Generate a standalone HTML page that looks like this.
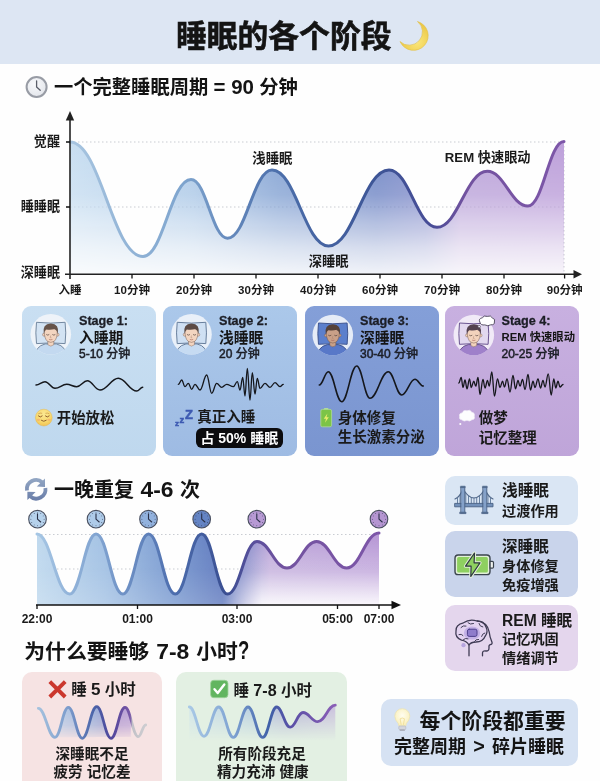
<!DOCTYPE html>
<html lang="zh-CN"><head><meta charset="utf-8"><title>睡眠的各个阶段</title>
<style>
html,body{margin:0;padding:0;}
body{width:600px;height:781px;overflow:hidden;background:#fefefe;font-family:"Liberation Sans","Noto Sans CJK SC",sans-serif;}
#pg{position:relative;width:600px;height:781px;overflow:hidden;background:#fefefe;}
.t{position:absolute;white-space:nowrap;font-weight:700;color:#1a1a1a;letter-spacing:0;}
.b{position:absolute;border-radius:10px;}
svg{position:absolute;left:0;top:0;}
svg text{font-family:"Liberation Sans","Noto Sans CJK SC",sans-serif;}
</style></head><body><div id="pg">
<div class="b" style="left:0;top:0;width:600px;height:64px;border-radius:0;background:#dde6f3;"></div>
<div class="b" style="left:22.0px;top:305.7px;width:134px;height:150.5px;border-radius:9px;background:linear-gradient(180deg,#c9dff2,#bfd8ee);"></div>
<div class="b" style="left:163.3px;top:305.7px;width:134px;height:150.5px;border-radius:9px;background:linear-gradient(180deg,#abc8ea,#9ebbe3);"></div>
<div class="b" style="left:304.5px;top:305.7px;width:134px;height:150.5px;border-radius:9px;background:linear-gradient(180deg,#849fd8,#7a95d0);"></div>
<div class="b" style="left:444.6px;top:305.7px;width:134px;height:150.5px;border-radius:9px;background:linear-gradient(180deg,#c8b0e0,#bfa5d9);"></div>
<div class="b" style="left:195.8px;top:427.6px;width:86.8px;height:20.6px;border-radius:6px;background:#0c0c0e;"></div>
<div class="b" style="left:445px;top:476px;width:133px;height:49px;background:#dae6f4;"></div>
<div class="b" style="left:445px;top:531px;width:133px;height:66px;background:#c9d4eb;"></div>
<div class="b" style="left:445px;top:605px;width:133px;height:66px;background:#e4d6ed;"></div>
<div class="b" style="left:22px;top:672px;width:140px;height:130px;background:#f6e3e3;"></div>
<div class="b" style="left:176px;top:672px;width:171px;height:130px;background:#e3f0e3;"></div>
<div class="b" style="left:381px;top:698.8px;width:197.3px;height:66.8px;background:#d6e2f3;"></div>
<svg width="600" height="781" viewBox="0 0 600 781">
<defs>
<linearGradient id="g1l" gradientUnits="userSpaceOnUse" x1="70" y1="0" x2="564" y2="0">
<stop offset="0" stop-color="#a8c5e0"/><stop offset="0.22" stop-color="#80a6cf"/><stop offset="0.42" stop-color="#4c6fab"/><stop offset="0.62" stop-color="#3d5596"/><stop offset="0.73" stop-color="#474c96"/><stop offset="0.8" stop-color="#72529f"/><stop offset="1" stop-color="#7d56a8"/></linearGradient>
<linearGradient id="g1f" gradientUnits="userSpaceOnUse" x1="70" y1="0" x2="564" y2="0">
<stop offset="0" stop-color="#c8def1"/><stop offset="0.25" stop-color="#adc9e7"/><stop offset="0.42" stop-color="#87a5d4"/><stop offset="0.62" stop-color="#7389c6"/><stop offset="0.72" stop-color="#8890cc"/><stop offset="0.79" stop-color="#bca6da"/><stop offset="1" stop-color="#bda0da"/></linearGradient>
<linearGradient id="g1v" gradientUnits="userSpaceOnUse" x1="0" y1="142" x2="0" y2="274">
<stop offset="0" stop-color="#fff"/><stop offset="0.4" stop-color="#d0d0d0"/><stop offset="0.8" stop-color="#4a4a4a"/><stop offset="1" stop-color="#181818"/></linearGradient>
<mask id="m1"><rect x="60" y="130" width="520" height="150" fill="url(#g1v)"/></mask>
<linearGradient id="g2l" gradientUnits="userSpaceOnUse" x1="37" y1="0" x2="379" y2="0">
<stop offset="0" stop-color="#a6c6e4"/><stop offset="0.2" stop-color="#7c9fce"/><stop offset="0.4" stop-color="#4d6eae"/><stop offset="0.55" stop-color="#3a4f92"/><stop offset="0.64" stop-color="#5b4f9c"/><stop offset="0.72" stop-color="#72529f"/><stop offset="1" stop-color="#7d56a8"/></linearGradient>
<linearGradient id="g2f" gradientUnits="userSpaceOnUse" x1="37" y1="0" x2="379" y2="0">
<stop offset="0" stop-color="#c0d9ee"/><stop offset="0.2" stop-color="#a4c2e4"/><stop offset="0.4" stop-color="#7a9ad0"/><stop offset="0.55" stop-color="#6079be"/><stop offset="0.62" stop-color="#8f90cc"/><stop offset="0.68" stop-color="#bba4d8"/><stop offset="1" stop-color="#b798d6"/></linearGradient>
<linearGradient id="g2v" gradientUnits="userSpaceOnUse" x1="0" y1="534" x2="0" y2="605">
<stop offset="0" stop-color="#fff"/><stop offset="0.5" stop-color="#f2f2f2"/><stop offset="1" stop-color="#cfcfcf"/></linearGradient>
<linearGradient id="g2h" gradientUnits="userSpaceOnUse" x1="37" y1="0" x2="379" y2="0">
<stop offset="0" stop-color="#fff"/><stop offset="0.55" stop-color="#fff"/><stop offset="0.68" stop-color="#555"/><stop offset="1" stop-color="#555"/></linearGradient>
<linearGradient id="g2w" gradientUnits="userSpaceOnUse" x1="0" y1="540" x2="0" y2="605">
<stop offset="0" stop-color="#fff" stop-opacity="0.03"/><stop offset="0.5" stop-color="#fff" stop-opacity="0.28"/><stop offset="1" stop-color="#fff" stop-opacity="0.9"/></linearGradient>
<linearGradient id="g2hm" gradientUnits="userSpaceOnUse" x1="222" y1="0" x2="262" y2="0">
<stop offset="0" stop-color="#000"/><stop offset="1" stop-color="#fff"/></linearGradient>
<mask id="m2w"><rect x="30" y="525" width="360" height="85" fill="url(#g2hm)"/></mask>
<mask id="m2"><rect x="30" y="525" width="360" height="85" fill="url(#g2v)"/></mask>
<linearGradient id="g3l" gradientUnits="userSpaceOnUse" x1="38" y1="0" x2="146" y2="0">
<stop offset="0" stop-color="#a5c2de"/><stop offset="0.28" stop-color="#7c9ccc"/><stop offset="0.52" stop-color="#4a63a8"/><stop offset="0.68" stop-color="#51469c"/><stop offset="0.8" stop-color="#6c50a2"/><stop offset="0.855" stop-color="#7a5aa8"/><stop offset="0.875" stop-color="#c2c2c8"/><stop offset="1" stop-color="#cdcdd1"/></linearGradient>
<linearGradient id="g3f" gradientUnits="userSpaceOnUse" x1="0" y1="706" x2="0" y2="742">
<stop offset="0" stop-color="#8fb0e0" stop-opacity="0.75"/><stop offset="1" stop-color="#8fb0e0" stop-opacity="0"/></linearGradient>
<linearGradient id="g3h" gradientUnits="userSpaceOnUse" x1="38" y1="0" x2="146" y2="0">
<stop offset="0" stop-color="#c3daee"/><stop offset="0.5" stop-color="#95aedb"/><stop offset="0.66" stop-color="#8f98d0"/><stop offset="0.74" stop-color="#ae97d2"/><stop offset="0.855" stop-color="#b59dd6"/><stop offset="0.87" stop-color="#f0e2e6" stop-opacity="0"/><stop offset="1" stop-color="#f0e2e6" stop-opacity="0"/></linearGradient>
<linearGradient id="g3v" gradientUnits="userSpaceOnUse" x1="0" y1="706" x2="0" y2="738">
<stop offset="0" stop-color="#fff"/><stop offset="0.6" stop-color="#aaa"/><stop offset="1" stop-color="#222"/></linearGradient>
<mask id="m3"><rect x="30" y="700" width="130" height="45" fill="url(#g3v)"/></mask>
<linearGradient id="g4l" gradientUnits="userSpaceOnUse" x1="189" y1="0" x2="335" y2="0">
<stop offset="0" stop-color="#a9c9e6"/><stop offset="0.3" stop-color="#7fa3d2"/><stop offset="0.55" stop-color="#4060a8"/><stop offset="0.7" stop-color="#5a4fa6"/><stop offset="1" stop-color="#8a5fb6"/></linearGradient>
<linearGradient id="g4h" gradientUnits="userSpaceOnUse" x1="189" y1="0" x2="335" y2="0">
<stop offset="0" stop-color="#c6dff0"/><stop offset="0.45" stop-color="#9ab6e0"/><stop offset="0.66" stop-color="#9a92d2"/><stop offset="1" stop-color="#b9a0da"/></linearGradient>
<linearGradient id="g4v" gradientUnits="userSpaceOnUse" x1="0" y1="705" x2="0" y2="741">
<stop offset="0" stop-color="#fff"/><stop offset="1" stop-color="#000"/></linearGradient>
<mask id="m4"><rect x="180" y="700" width="165" height="45" fill="url(#g4v)"/></mask>
<radialGradient id="gm" cx="0.6" cy="0.7" r="0.7"><stop offset="0" stop-color="#fbe77a"/><stop offset="1" stop-color="#e9c340"/></radialGradient>
<radialGradient id="gck" cx="0.4" cy="0.35" r="0.8"><stop offset="0" stop-color="#f8f9fb"/><stop offset="1" stop-color="#dfe2e8"/></radialGradient>
<radialGradient id="gbl" cx="0.5" cy="0.4" r="0.6"><stop offset="0" stop-color="#fffdf0"/><stop offset="1" stop-color="#faefb8"/></radialGradient>
<linearGradient id="grf" gradientUnits="userSpaceOnUse" x1="0" y1="-11" x2="0" y2="11"><stop offset="0" stop-color="#93a7c4"/><stop offset="1" stop-color="#697da8"/></linearGradient>
<radialGradient id="gem" cx="0.5" cy="0.3" r="0.8"><stop offset="0" stop-color="#fbe892"/><stop offset="0.6" stop-color="#f7d76c"/><stop offset="1" stop-color="#efb74a"/></radialGradient>
</defs>
<path d="M417.5,21.5 A14.7,14.7 0 1 1 400,41.5 A13.3,13.3 0 1 0 417.5,21.5 Z" fill="url(#gm)" stroke="#e3c040" stroke-width="0.6"/>
<g transform="translate(36.6,87)"><circle r="10" fill="url(#gck)" stroke="#989ca5" stroke-width="2"/><path d="M0,-6.2 L0,0 L3.6,3.2" fill="none" stroke="#5a5e69" stroke-width="1.3" stroke-linecap="round" stroke-linejoin="round"/></g>
<g>
<path d="M70,142 H564 M70,207 H564" stroke="#c9ccd2" stroke-width="1" stroke-dasharray="1.5 2.5" fill="none"/>
<path d="M564,142 V274" stroke="#c9ccd2" stroke-width="1" stroke-dasharray="1.5 2.5" fill="none"/>
<path d="M70.0,142.0 C100.7,142.0 112.3,256.5 143.0,256.5 C163.2,256.5 170.8,179.5 191.0,179.5 C206.3,179.5 212.2,238.3 227.5,238.3 C246.2,238.3 253.3,170.0 272.0,170.0 C295.7,170.0 304.8,246.0 328.5,246.0 C353.9,246.0 363.6,170.0 389.0,170.0 C409.2,170.0 416.8,227.3 437.0,227.3 C458.1,227.3 466.2,171.3 487.3,171.3 C504.4,171.3 510.9,206.0 528.0,206.0 C543.1,206.0 548.9,141.5 564.0,141.5 L564,274 L70,274 Z" fill="url(#g1f)" mask="url(#m1)"/>
<path d="M70.0,142.0 C100.7,142.0 112.3,256.5 143.0,256.5 C163.2,256.5 170.8,179.5 191.0,179.5 C206.3,179.5 212.2,238.3 227.5,238.3 C246.2,238.3 253.3,170.0 272.0,170.0 C295.7,170.0 304.8,246.0 328.5,246.0 C353.9,246.0 363.6,170.0 389.0,170.0 C409.2,170.0 416.8,227.3 437.0,227.3 C458.1,227.3 466.2,171.3 487.3,171.3 C504.4,171.3 510.9,206.0 528.0,206.0 C543.1,206.0 548.9,141.5 564.0,141.5" fill="none" stroke="url(#g1l)" stroke-width="3" stroke-linecap="round"/>
<path d="M70,279 V118" stroke="#222" stroke-width="1.6" fill="none"/><path d="M70,111 L74.2,120.5 L65.8,120.5 Z" fill="#222"/>
<path d="M65,274.2 H575" stroke="#222" stroke-width="1.6" fill="none"/><path d="M582,274.2 L573.5,278.5 L573.5,269.9 Z" fill="#222"/>
<path d="M132.0,274 v4.5 M194.0,274 v4.5 M256.0,274 v4.5 M318.0,274 v4.5 M380.0,274 v4.5 M442.0,274 v4.5 M504.0,274 v4.5 M564.6,274 v4.5 M66,142 h4 M66,207 h4" stroke="#111" stroke-width="1.3" fill="none"/>
</g>
<g transform="translate(50.8,334.3)"><circle r="20.3" fill="#eef3f9"/><clipPath id="av50"><circle r="20.3"/></clipPath><g clip-path="url(#av50)"><path d="M-14.3,-12 Q0,-10.4 14.3,-12 Q15.6,-1.5 14.3,9.3 Q0,7.9 -14.3,9.3 Q-15.6,-1.5 -14.3,-12 Z" fill="#d3e3f3" stroke="#7388a0" stroke-width="1"/><path d="M-16,24 Q-16,12 -5.5,9.6 L5.5,9.6 Q16,12 16,24 Z" fill="#c3d9f0" stroke="#7388a0" stroke-width="1"/><g transform="translate(0,0.8) scale(0.92)"><path d="M-3.2,5 L-3.2,10.5 Q0,13.5 3.2,10.5 L3.2,5 Z" fill="#f3d5c0" stroke="#6b5246" stroke-width="0.4"/><circle cx="-7.3" cy="-0.5" r="1.7" fill="#f3d5c0" stroke="#6b5246" stroke-width="0.4"/><circle cx="7.3" cy="-0.5" r="1.7" fill="#f3d5c0" stroke="#6b5246" stroke-width="0.4"/><path d="M-7,-5 Q-7.4,3.5 -3.6,6.8 Q0,9 3.6,6.8 Q7.4,3.5 7,-5 Q0,-10 -7,-5 Z" fill="#f3d5c0" stroke="#6b5246" stroke-width="0.5"/><path d="M-7.6,-1.5 Q-9.6,-12.4 0,-12.6 Q9.6,-12.4 7.6,-1.5 Q6.8,-5.6 4.2,-6.6 Q-1,-5 -5,-6.4 Q-6.8,-4.6 -7.6,-1.5 Z" fill="#665349"/><path d="M-4.6,-0.4 Q-3.3,0.7 -2,-0.4 M2,-0.4 Q3.3,0.7 4.6,-0.4" fill="none" stroke="#4a3a34" stroke-width="0.7" stroke-linecap="round"/><path d="M-0.1,0.8 L-0.6,2.8 L0.4,2.9" fill="none" stroke="#a87f6a" stroke-width="0.5" stroke-linecap="round"/><path d="M-1.4,4.9 Q0,5.5 1.4,4.9" fill="none" stroke="#a8675a" stroke-width="0.7" stroke-linecap="round"/></g></g></g><g transform="translate(191.5,334.3)"><circle r="20.3" fill="#e9f0f9"/><clipPath id="av191"><circle r="20.3"/></clipPath><g clip-path="url(#av191)"><path d="M-14.3,-12 Q0,-10.4 14.3,-12 Q15.6,-1.5 14.3,9.3 Q0,7.9 -14.3,9.3 Q-15.6,-1.5 -14.3,-12 Z" fill="#cfe0f3" stroke="#677e9c" stroke-width="1"/><path d="M-16,24 Q-16,12 -5.5,9.6 L5.5,9.6 Q16,12 16,24 Z" fill="#c6dbf2" stroke="#677e9c" stroke-width="1"/><g transform="translate(0,0.8) scale(0.92)"><path d="M-3.2,5 L-3.2,10.5 Q0,13.5 3.2,10.5 L3.2,5 Z" fill="#f3d5c0" stroke="#6b5246" stroke-width="0.4"/><circle cx="-7.3" cy="-0.5" r="1.7" fill="#f3d5c0" stroke="#6b5246" stroke-width="0.4"/><circle cx="7.3" cy="-0.5" r="1.7" fill="#f3d5c0" stroke="#6b5246" stroke-width="0.4"/><path d="M-7,-5 Q-7.4,3.5 -3.6,6.8 Q0,9 3.6,6.8 Q7.4,3.5 7,-5 Q0,-10 -7,-5 Z" fill="#f3d5c0" stroke="#6b5246" stroke-width="0.5"/><path d="M-7.6,-1.5 Q-9.6,-12.4 0,-12.6 Q9.6,-12.4 7.6,-1.5 Q6.8,-5.6 4.2,-6.6 Q-1,-5 -5,-6.4 Q-6.8,-4.6 -7.6,-1.5 Z" fill="#5c4b45"/><path d="M-4.6,-0.4 Q-3.3,0.7 -2,-0.4 M2,-0.4 Q3.3,0.7 4.6,-0.4" fill="none" stroke="#4a3a34" stroke-width="0.7" stroke-linecap="round"/><path d="M-0.1,0.8 L-0.6,2.8 L0.4,2.9" fill="none" stroke="#a87f6a" stroke-width="0.5" stroke-linecap="round"/><path d="M-1.4,4.9 Q0,5.5 1.4,4.9" fill="none" stroke="#a8675a" stroke-width="0.7" stroke-linecap="round"/></g></g></g><g transform="translate(332.8,335.0)"><circle r="20.3" fill="#e6ecf7"/><clipPath id="av332"><circle r="20.3"/></clipPath><g clip-path="url(#av332)"><path d="M-14.3,-12 Q0,-10.4 14.3,-12 Q15.6,-1.5 14.3,9.3 Q0,7.9 -14.3,9.3 Q-15.6,-1.5 -14.3,-12 Z" fill="#5b7fcc" stroke="#3f5590" stroke-width="1"/><path d="M-16,24 Q-16,12 -5.5,9.6 L5.5,9.6 Q16,12 16,24 Z" fill="#5878c8" stroke="#3f5590" stroke-width="1"/><g transform="translate(0,0.8) scale(0.92)"><path d="M-3.2,5 L-3.2,10.5 Q0,13.5 3.2,10.5 L3.2,5 Z" fill="#c9a088" stroke="#6b5246" stroke-width="0.4"/><circle cx="-7.3" cy="-0.5" r="1.7" fill="#c9a088" stroke="#6b5246" stroke-width="0.4"/><circle cx="7.3" cy="-0.5" r="1.7" fill="#c9a088" stroke="#6b5246" stroke-width="0.4"/><path d="M-7,-5 Q-7.4,3.5 -3.6,6.8 Q0,9 3.6,6.8 Q7.4,3.5 7,-5 Q0,-10 -7,-5 Z" fill="#c9a088" stroke="#6b5246" stroke-width="0.5"/><path d="M-7.6,-1.5 Q-9.6,-12.4 0,-12.6 Q9.6,-12.4 7.6,-1.5 Q6.8,-5.6 4.2,-6.6 Q-1,-5 -5,-6.4 Q-6.8,-4.6 -7.6,-1.5 Z" fill="#55423a"/><path d="M-4.6,-0.4 Q-3.3,0.7 -2,-0.4 M2,-0.4 Q3.3,0.7 4.6,-0.4" fill="none" stroke="#4a3a34" stroke-width="0.7" stroke-linecap="round"/><path d="M-0.1,0.8 L-0.6,2.8 L0.4,2.9" fill="none" stroke="#a87f6a" stroke-width="0.5" stroke-linecap="round"/><path d="M-1.4,4.9 Q0,5.5 1.4,4.9" fill="none" stroke="#a8675a" stroke-width="0.7" stroke-linecap="round"/></g></g></g><g transform="translate(473.8,335.0)"><circle r="20.3" fill="#f1eaf7"/><clipPath id="av473"><circle r="20.3"/></clipPath><g clip-path="url(#av473)"><path d="M-14.3,-12 Q0,-10.4 14.3,-12 Q15.6,-1.5 14.3,9.3 Q0,7.9 -14.3,9.3 Q-15.6,-1.5 -14.3,-12 Z" fill="#e2d8ef" stroke="#6a5490" stroke-width="1"/><path d="M-16,24 Q-16,12 -5.5,9.6 L5.5,9.6 Q16,12 16,24 Z" fill="#9f80ca" stroke="#6a5490" stroke-width="1"/><g transform="translate(0,0.8) scale(0.92)"><path d="M-3.2,5 L-3.2,10.5 Q0,13.5 3.2,10.5 L3.2,5 Z" fill="#f3d3bc" stroke="#6b5246" stroke-width="0.4"/><circle cx="-7.3" cy="-0.5" r="1.7" fill="#f3d3bc" stroke="#6b5246" stroke-width="0.4"/><circle cx="7.3" cy="-0.5" r="1.7" fill="#f3d3bc" stroke="#6b5246" stroke-width="0.4"/><path d="M-7,-5 Q-7.4,3.5 -3.6,6.8 Q0,9 3.6,6.8 Q7.4,3.5 7,-5 Q0,-10 -7,-5 Z" fill="#f3d3bc" stroke="#6b5246" stroke-width="0.5"/><path d="M-7.6,-1.5 Q-9.6,-12.4 0,-12.6 Q9.6,-12.4 7.6,-1.5 Q6.8,-5.6 4.2,-6.6 Q-1,-5 -5,-6.4 Q-6.8,-4.6 -7.6,-1.5 Z" fill="#54424f"/><path d="M-4.6,-0.4 Q-3.3,0.7 -2,-0.4 M2,-0.4 Q3.3,0.7 4.6,-0.4" fill="none" stroke="#4a3a34" stroke-width="0.7" stroke-linecap="round"/><path d="M-0.1,0.8 L-0.6,2.8 L0.4,2.9" fill="none" stroke="#a87f6a" stroke-width="0.5" stroke-linecap="round"/><path d="M-1.4,4.9 Q0,5.5 1.4,4.9" fill="none" stroke="#a8675a" stroke-width="0.7" stroke-linecap="round"/></g></g><g transform="translate(13,-14)"><path d="M-7,1 Q-8.5,-2.5 -4.5,-3.2 Q-3,-6 0.5,-4.6 Q4,-6.2 5.6,-3 Q9,-2 7.6,1 Q8,4 4,3.8 Q1,5.6 -2,3.9 Q-6,4.6 -7,1 Z" fill="#fff" stroke="#4a4258" stroke-width="0.9"/><circle cx="-7.6" cy="5.6" r="1.2" fill="#fff" stroke="#4a4258" stroke-width="0.7"/></g></g><path d="M36.0,385.0 C39.6,385.0 41.4,381.7 45.0,381.7 C49.0,381.7 51.0,388.3 55.0,388.3 C59.7,388.3 62.0,384.3 66.7,384.3 C70.7,384.3 72.7,386.7 76.7,386.7 C80.9,386.7 83.1,380.7 87.3,380.7 C92.4,380.7 94.9,390.0 100.0,390.0 C107.3,390.0 111.0,378.3 118.3,378.3 C125.7,378.3 129.3,391.0 136.7,391.0 C139.1,391.0 140.3,387.3 142.7,387.3" fill="none" stroke="#15171c" stroke-width="1.5" stroke-linecap="round" stroke-linejoin="round"/>
<path d="M178.3,384.3 C179.7,384.3 180.3,380.0 181.7,380.0 C183.0,380.0 183.7,386.7 185.0,386.7 C186.3,386.7 187.0,383.3 188.3,383.3 C189.7,383.3 190.3,389.3 191.7,389.3 C193.0,389.3 193.7,384.3 195.0,384.3 C197.0,384.3 198.0,390.0 200.0,390.0 C202.7,390.0 204.0,375.0 206.7,375.0 C208.7,375.0 209.7,393.3 211.7,393.3 C213.7,393.3 214.7,383.3 216.7,383.3 C218.7,383.3 219.7,387.3 221.7,387.3 C223.7,387.3 224.7,384.3 226.7,384.3 C229.3,384.3 230.7,386.7 233.3,386.7 C234.9,386.7 235.7,381.7 237.3,381.7 C238.4,381.7 238.9,390.0 240.0,390.0 C241.1,390.0 241.6,377.3 242.7,377.3 C243.6,377.3 244.1,396.0 245.0,396.0 C245.9,396.0 246.4,368.3 247.3,368.3 C248.4,368.3 248.9,400.0 250.0,400.0 C250.9,400.0 251.4,372.7 252.3,372.7 C253.4,372.7 253.9,394.0 255.0,394.0 C255.9,394.0 256.4,378.3 257.3,378.3 C258.4,378.3 258.9,388.3 260.0,388.3 C262.0,388.3 263.0,383.3 265.0,383.3 C267.0,383.3 268.0,387.3 270.0,387.3 C272.0,387.3 273.0,382.7 275.0,382.7 C277.0,382.7 278.0,386.7 280.0,386.7 C281.3,386.7 282.0,384.3 283.3,384.3" fill="none" stroke="#15171c" stroke-width="1.3" stroke-linecap="round" stroke-linejoin="round"/>
<path d="M319.3,385.0 C322.9,385.0 324.7,371.7 328.3,371.7 C333.7,371.7 336.3,401.7 341.7,401.7 C347.7,401.7 350.7,366.0 356.7,366.0 C362.0,366.0 364.7,398.3 370.0,398.3 C377.3,398.3 381.0,371.7 388.3,371.7 C393.7,371.7 396.3,395.0 401.7,395.0 C407.0,395.0 409.7,379.3 415.0,379.3 C418.3,379.3 420.0,386.0 423.3,386.0" fill="none" stroke="#15171c" stroke-width="1.6" stroke-linecap="round" stroke-linejoin="round"/>
<path d="M458.8,383.0 C459.8,383.0 460.2,377.5 461.2,377.5 C461.9,377.5 462.3,387.5 463.0,387.5 C463.8,387.5 464.2,380.0 465.0,380.0 C465.8,380.0 466.2,388.8 467.0,388.8 C468.0,388.8 468.5,378.8 469.5,378.8 C470.2,378.8 470.6,387.5 471.2,387.5 C472.2,387.5 472.8,381.2 473.8,381.2 C474.6,381.2 474.9,386.2 475.8,386.2 C476.6,386.2 477.1,377.5 478.0,377.5 C478.8,377.5 479.2,394.5 480.0,394.5 C481.2,394.5 481.8,379.5 483.0,379.5 C483.8,379.5 484.2,388.0 485.0,388.0 C486.0,388.0 486.5,380.5 487.5,380.5 C488.2,380.5 488.6,386.2 489.2,386.2 C490.2,386.2 490.8,372.0 491.8,372.0 C492.9,372.0 493.4,396.2 494.5,396.2 C495.7,396.2 496.3,378.8 497.5,378.8 C498.5,378.8 499.0,387.5 500.0,387.5 C501.0,387.5 501.5,381.2 502.5,381.2 C503.3,381.2 503.7,387.0 504.5,387.0 C505.5,387.0 506.0,378.8 507.0,378.8 C508.2,378.8 508.8,392.0 510.0,392.0 C511.2,392.0 511.8,375.5 513.0,375.5 C514.0,375.5 514.5,388.8 515.5,388.8 C516.5,388.8 517.0,380.5 518.0,380.5 C518.8,380.5 519.2,386.2 520.0,386.2 C521.0,386.2 521.5,379.5 522.5,379.5 C523.5,379.5 524.0,389.5 525.0,389.5 C526.2,389.5 526.8,374.5 528.0,374.5 C529.0,374.5 529.5,390.0 530.5,390.0 C531.5,390.0 532.0,381.2 533.0,381.2 C533.8,381.2 534.2,387.5 535.0,387.5 C536.2,387.5 536.8,378.8 538.0,378.8 C539.0,378.8 539.5,388.0 540.5,388.0 C541.5,388.0 542.0,380.5 543.0,380.5 C543.8,380.5 544.2,387.0 545.0,387.0 C546.3,387.0 547.0,373.8 548.2,373.8 C549.5,373.8 550.0,395.0 551.2,395.0 C552.2,395.0 552.8,378.8 553.8,378.8 C554.5,378.8 555.0,388.0 555.8,388.0 C556.6,388.0 557.1,381.2 558.0,381.2 C558.8,381.2 559.2,387.0 560.0,387.0 C561.2,387.0 561.8,384.5 563.0,384.5" fill="none" stroke="#15171c" stroke-width="1.3" stroke-linecap="round" stroke-linejoin="round"/>
<g transform="translate(43.8,417.6)"><circle r="8.4" fill="url(#gem)" stroke="#e6b040" stroke-width="0.4"/><path d="M-5.4,-1.6 Q-3.5,0.6 -1.6,-1.6 M1.6,-1.6 Q3.5,0.6 5.4,-1.6" fill="none" stroke="#8a5a2a" stroke-width="0.95" stroke-linecap="round"/><path d="M-5.2,-4 Q-3.6,-5 -2,-4.4 M2,-4.4 Q3.6,-5 5.2,-4" fill="none" stroke="#c08a3a" stroke-width="0.6" stroke-linecap="round"/><path d="M-2.4,2.8 Q0,4.8 2.4,2.8" fill="none" stroke="#8a5a2a" stroke-width="0.95" stroke-linecap="round"/><ellipse cx="-5.2" cy="2.2" rx="1.9" ry="1.1" fill="#f2a070" opacity="0.55"/><ellipse cx="5.2" cy="2.2" rx="1.9" ry="1.1" fill="#f2a070" opacity="0.55"/></g>
<g fill="#3d5ab2" font-weight="700" stroke="#3d5ab2" stroke-width="0.5"><text x="175" y="426" font-size="8">z</text><text x="179.6" y="422.5" font-size="9.5">z</text><text x="185" y="418.6" font-size="13">Z</text></g>
<g transform="translate(326.2,418)"><rect x="-2.2" y="-9.9" width="4.4" height="1.8" rx="0.6" fill="#b4dca0"/><rect x="-5.4" y="-8.6" width="10.8" height="17.4" rx="1.6" fill="#7cc447" stroke="#a9d78f" stroke-width="0.9"/><path d="M1.2,-4.6 L-2.4,0.8 L-0.2,0.8 L-1.2,4.8 L2.6,-0.8 L0.3,-0.8 Z" fill="#eaec6a"/></g>
<g transform="translate(467,416) scale(0.86)"><path d="M-6,4.5 Q-9.5,4 -8.6,0.6 Q-9.6,-3.2 -5.6,-3.6 Q-4,-7.6 0,-6 Q3.6,-8 5.6,-4.4 Q9.6,-3.6 8.4,0.2 Q9.8,3.8 5.6,4.4 Q3,7 0,5 Q-3.4,7 -6,4.5 Z" fill="#fdfdfe" stroke="#efeaf6" stroke-width="0.8"/><circle cx="-7.8" cy="9.2" r="1.2" fill="#fdfdfe"/></g>
<g transform="translate(36.2,489.3)" fill="none" stroke="url(#grf)" stroke-width="3.8" stroke-linecap="butt"><path d="M-9.2,1.2 A9.2,9.2 0 0 1 6.2,-6.8"/><path d="M9.2,-1.2 A9.2,9.2 0 0 1 -6.2,6.8"/><path d="M8.8,-10.8 L8.8,-2.4 L0.6,-2.8 Z" fill="url(#grf)" stroke="none"/><path d="M-8.8,10.8 L-8.8,2.4 L-0.6,2.8 Z" fill="url(#grf)" stroke="none"/></g>
<path d="M37,534.5 H379 M37,569 H379" stroke="#c9ccd2" stroke-width="1" stroke-dasharray="1.5 2.5" fill="none"/>
<path d="M37.0,534.0 C50.7,534.0 56.0,594.0 69.7,594.0 C80.7,594.0 85.0,534.0 96.0,534.0 C107.3,534.0 111.5,594.0 122.8,594.0 C133.6,594.0 137.7,534.0 148.5,534.0 C159.8,534.0 164.0,594.0 175.3,594.0 C186.4,594.0 190.6,534.0 201.7,534.0 C212.5,534.0 216.7,594.0 227.5,594.0 C239.9,594.0 244.6,541.5 257.0,541.5 C269.6,541.5 274.4,568.0 287.0,568.0 C299.4,568.0 304.2,541.5 316.6,541.5 C329.2,541.5 334.1,568.0 346.7,568.0 C360.3,568.0 365.4,533.0 379.0,533.0 L379,605 L37,605 Z" fill="url(#g2f)" mask="url(#m2)"/>
<path d="M37.0,534.0 C50.7,534.0 56.0,594.0 69.7,594.0 C80.7,594.0 85.0,534.0 96.0,534.0 C107.3,534.0 111.5,594.0 122.8,594.0 C133.6,594.0 137.7,534.0 148.5,534.0 C159.8,534.0 164.0,594.0 175.3,594.0 C186.4,594.0 190.6,534.0 201.7,534.0 C212.5,534.0 216.7,594.0 227.5,594.0 C239.9,594.0 244.6,541.5 257.0,541.5 C269.6,541.5 274.4,568.0 287.0,568.0 C299.4,568.0 304.2,541.5 316.6,541.5 C329.2,541.5 334.1,568.0 346.7,568.0 C360.3,568.0 365.4,533.0 379.0,533.0 L379,605 L37,605 Z" fill="url(#g2w)" mask="url(#m2w)"/>
<path d="M37.0,534.0 C50.7,534.0 56.0,594.0 69.7,594.0 C80.7,594.0 85.0,534.0 96.0,534.0 C107.3,534.0 111.5,594.0 122.8,594.0 C133.6,594.0 137.7,534.0 148.5,534.0 C159.8,534.0 164.0,594.0 175.3,594.0 C186.4,594.0 190.6,534.0 201.7,534.0 C212.5,534.0 216.7,594.0 227.5,594.0 C239.9,594.0 244.6,541.5 257.0,541.5 C269.6,541.5 274.4,568.0 287.0,568.0 C299.4,568.0 304.2,541.5 316.6,541.5 C329.2,541.5 334.1,568.0 346.7,568.0 C360.3,568.0 365.4,533.0 379.0,533.0" fill="none" stroke="url(#g2l)" stroke-width="3" stroke-linecap="round"/>
<path d="M36,605 H394" stroke="#111" stroke-width="1.6" fill="none"/><path d="M401,605 L391.5,609.2 L391.5,600.8 Z" fill="#111"/>
<path d="M37,605 v4 M137.5,605 v4 M237,605 v4 M337.5,605 v4 M379,605 v4" stroke="#111" stroke-width="1.3" fill="none"/>
<g transform="translate(37.5,519.2)"><circle r="8.8" fill="#b6d2ec" stroke="#4a5060" stroke-width="1.1"/><circle cx="0.00" cy="-6.60" r="0.45" fill="#2a3148"/><circle cx="3.30" cy="-5.72" r="0.45" fill="#2a3148"/><circle cx="5.72" cy="-3.30" r="0.45" fill="#2a3148"/><circle cx="6.60" cy="-0.00" r="0.45" fill="#2a3148"/><circle cx="5.72" cy="3.30" r="0.45" fill="#2a3148"/><circle cx="3.30" cy="5.72" r="0.45" fill="#2a3148"/><circle cx="0.00" cy="6.60" r="0.45" fill="#2a3148"/><circle cx="-3.30" cy="5.72" r="0.45" fill="#2a3148"/><circle cx="-5.72" cy="3.30" r="0.45" fill="#2a3148"/><circle cx="-6.60" cy="0.00" r="0.45" fill="#2a3148"/><circle cx="-5.72" cy="-3.30" r="0.45" fill="#2a3148"/><circle cx="-3.30" cy="-5.72" r="0.45" fill="#2a3148"/><path d="M0,-5.4 L0,0 L3.2,2.8" fill="none" stroke="#2a3148" stroke-width="1.1" stroke-linecap="round" stroke-linejoin="round"/></g><g transform="translate(96.0,519.2)"><circle r="8.8" fill="#aecbe9" stroke="#4a5060" stroke-width="1.1"/><circle cx="0.00" cy="-6.60" r="0.45" fill="#2a3148"/><circle cx="3.30" cy="-5.72" r="0.45" fill="#2a3148"/><circle cx="5.72" cy="-3.30" r="0.45" fill="#2a3148"/><circle cx="6.60" cy="-0.00" r="0.45" fill="#2a3148"/><circle cx="5.72" cy="3.30" r="0.45" fill="#2a3148"/><circle cx="3.30" cy="5.72" r="0.45" fill="#2a3148"/><circle cx="0.00" cy="6.60" r="0.45" fill="#2a3148"/><circle cx="-3.30" cy="5.72" r="0.45" fill="#2a3148"/><circle cx="-5.72" cy="3.30" r="0.45" fill="#2a3148"/><circle cx="-6.60" cy="0.00" r="0.45" fill="#2a3148"/><circle cx="-5.72" cy="-3.30" r="0.45" fill="#2a3148"/><circle cx="-3.30" cy="-5.72" r="0.45" fill="#2a3148"/><path d="M0,-5.4 L0,0 L3.2,2.8" fill="none" stroke="#2a3148" stroke-width="1.1" stroke-linecap="round" stroke-linejoin="round"/></g><g transform="translate(148.5,519.2)"><circle r="8.8" fill="#92b2de" stroke="#4a5060" stroke-width="1.1"/><circle cx="0.00" cy="-6.60" r="0.45" fill="#2a3148"/><circle cx="3.30" cy="-5.72" r="0.45" fill="#2a3148"/><circle cx="5.72" cy="-3.30" r="0.45" fill="#2a3148"/><circle cx="6.60" cy="-0.00" r="0.45" fill="#2a3148"/><circle cx="5.72" cy="3.30" r="0.45" fill="#2a3148"/><circle cx="3.30" cy="5.72" r="0.45" fill="#2a3148"/><circle cx="0.00" cy="6.60" r="0.45" fill="#2a3148"/><circle cx="-3.30" cy="5.72" r="0.45" fill="#2a3148"/><circle cx="-5.72" cy="3.30" r="0.45" fill="#2a3148"/><circle cx="-6.60" cy="0.00" r="0.45" fill="#2a3148"/><circle cx="-5.72" cy="-3.30" r="0.45" fill="#2a3148"/><circle cx="-3.30" cy="-5.72" r="0.45" fill="#2a3148"/><path d="M0,-5.4 L0,0 L3.2,2.8" fill="none" stroke="#2a3148" stroke-width="1.1" stroke-linecap="round" stroke-linejoin="round"/></g><g transform="translate(201.7,519.2)"><circle r="8.8" fill="#6484c4" stroke="#4a5060" stroke-width="1.1"/><circle cx="0.00" cy="-6.60" r="0.45" fill="#2a3148"/><circle cx="3.30" cy="-5.72" r="0.45" fill="#2a3148"/><circle cx="5.72" cy="-3.30" r="0.45" fill="#2a3148"/><circle cx="6.60" cy="-0.00" r="0.45" fill="#2a3148"/><circle cx="5.72" cy="3.30" r="0.45" fill="#2a3148"/><circle cx="3.30" cy="5.72" r="0.45" fill="#2a3148"/><circle cx="0.00" cy="6.60" r="0.45" fill="#2a3148"/><circle cx="-3.30" cy="5.72" r="0.45" fill="#2a3148"/><circle cx="-5.72" cy="3.30" r="0.45" fill="#2a3148"/><circle cx="-6.60" cy="0.00" r="0.45" fill="#2a3148"/><circle cx="-5.72" cy="-3.30" r="0.45" fill="#2a3148"/><circle cx="-3.30" cy="-5.72" r="0.45" fill="#2a3148"/><path d="M0,-5.4 L0,0 L3.2,2.8" fill="none" stroke="#2a3148" stroke-width="1.1" stroke-linecap="round" stroke-linejoin="round"/></g><g transform="translate(256.8,519.2)"><circle r="8.8" fill="#b79ad4" stroke="#4a5060" stroke-width="1.1"/><circle cx="0.00" cy="-6.60" r="0.45" fill="#2a3148"/><circle cx="3.30" cy="-5.72" r="0.45" fill="#2a3148"/><circle cx="5.72" cy="-3.30" r="0.45" fill="#2a3148"/><circle cx="6.60" cy="-0.00" r="0.45" fill="#2a3148"/><circle cx="5.72" cy="3.30" r="0.45" fill="#2a3148"/><circle cx="3.30" cy="5.72" r="0.45" fill="#2a3148"/><circle cx="0.00" cy="6.60" r="0.45" fill="#2a3148"/><circle cx="-3.30" cy="5.72" r="0.45" fill="#2a3148"/><circle cx="-5.72" cy="3.30" r="0.45" fill="#2a3148"/><circle cx="-6.60" cy="0.00" r="0.45" fill="#2a3148"/><circle cx="-5.72" cy="-3.30" r="0.45" fill="#2a3148"/><circle cx="-3.30" cy="-5.72" r="0.45" fill="#2a3148"/><path d="M0,-5.4 L0,0 L3.2,2.8" fill="none" stroke="#2a3148" stroke-width="1.1" stroke-linecap="round" stroke-linejoin="round"/></g><g transform="translate(379.0,519.2)"><circle r="8.8" fill="#b596d2" stroke="#4a5060" stroke-width="1.1"/><circle cx="0.00" cy="-6.60" r="0.45" fill="#2a3148"/><circle cx="3.30" cy="-5.72" r="0.45" fill="#2a3148"/><circle cx="5.72" cy="-3.30" r="0.45" fill="#2a3148"/><circle cx="6.60" cy="-0.00" r="0.45" fill="#2a3148"/><circle cx="5.72" cy="3.30" r="0.45" fill="#2a3148"/><circle cx="3.30" cy="5.72" r="0.45" fill="#2a3148"/><circle cx="0.00" cy="6.60" r="0.45" fill="#2a3148"/><circle cx="-3.30" cy="5.72" r="0.45" fill="#2a3148"/><circle cx="-5.72" cy="3.30" r="0.45" fill="#2a3148"/><circle cx="-6.60" cy="0.00" r="0.45" fill="#2a3148"/><circle cx="-5.72" cy="-3.30" r="0.45" fill="#2a3148"/><circle cx="-3.30" cy="-5.72" r="0.45" fill="#2a3148"/><path d="M0,-5.4 L0,0 L3.2,2.8" fill="none" stroke="#2a3148" stroke-width="1.1" stroke-linecap="round" stroke-linejoin="round"/></g>
<g transform="translate(474,500)" stroke-linecap="round" stroke-linejoin="round">
<path d="M-11,-11 Q0,7 11,-11 M-11,-11 Q-14,-3 -19,-1 M11,-11 Q14,-3 19,-1" fill="none" stroke="#4f6688" stroke-width="1.2"/>
<path d="M-8.2,-7.0 V3.4 M-5.5,-4.2 V3.4 M-2.7,-2.5 V3.4 M0.0,-2.0 V3.4 M2.7,-2.5 V3.4 M5.5,-4.2 V3.4 M8.2,-7.0 V3.4 M-14,-5 V3.4 M-16.5,-2.6 V3.4 M14,-5 V3.4 M16.5,-2.6 V3.4" fill="none" stroke="#5d7799" stroke-width="0.9"/>
<rect x="-19" y="3.4" width="38" height="3.4" fill="#7391ba" stroke="#4a6285" stroke-width="0.9"/>
<rect x="-12.8" y="-13" width="3.6" height="26" fill="#84a1c9" stroke="#4a6285" stroke-width="0.9"/>
<rect x="9.2" y="-13" width="3.6" height="26" fill="#84a1c9" stroke="#4a6285" stroke-width="0.9"/>
<rect x="-14" y="12.2" width="6" height="1.4" fill="#5d7799" stroke="#4a6285" stroke-width="0.7"/>
<rect x="8" y="12.2" width="6" height="1.4" fill="#5d7799" stroke="#4a6285" stroke-width="0.7"/>
<rect x="-13.2" y="-13.8" width="4.4" height="1.4" fill="#5d7799" stroke="#4a6285" stroke-width="0.6"/>
<rect x="8.8" y="-13.8" width="4.4" height="1.4" fill="#5d7799" stroke="#4a6285" stroke-width="0.6"/>
</g>
<g transform="translate(472.5,564.8)" stroke-linejoin="round"><rect x="-17.5" y="-9.8" width="35" height="19.6" rx="3.2" fill="#e2f0d8" stroke="#3b444e" stroke-width="1.4"/><rect x="-15.4" y="-7.7" width="30.8" height="15.4" rx="1.6" fill="#8ed060"/><path d="M17.6,-3.4 h2.2 a1.2,1.2 0 0 1 1.2,1.2 v4.4 a1.2,1.2 0 0 1 -1.2,1.2 h-2.2 Z" fill="#eef1ee" stroke="#3b444e" stroke-width="1.2"/><path d="M2,-11.8 L-7,1.4 L-1.4,1.4 L-1.7,11.7 L7.5,-2 L1.6,-2 Z" fill="#8ed060" stroke="#e2f0d8" stroke-width="3.2"/><path d="M2,-11.8 L-7,1.4 L-1.4,1.4 L-1.7,11.7 L7.5,-2 L1.6,-2 Z" fill="#8ed060" stroke="#2f3840" stroke-width="1.2"/></g>
<g fill="none" stroke="#3f3b54" stroke-width="1.3" stroke-linecap="round" stroke-linejoin="round">
<path d="M469,645 Q466.5,641 461.5,640.2 Q454.8,637.5 456,631 Q455.5,624.5 463.5,622.8 Q469.5,618.6 477,621 Q484,621 486,627 Q488.5,632 485,636.5 Q483,641.8 476,642 Q471,642 469,645 Z" fill="#e3d3f0"/>
<path d="M477,620.8 Q487.5,622 489.2,632 Q489.6,636.5 492,642.3 Q492.6,644.2 490.2,644.6 Q488.6,645 489,648 Q489,651.2 486,651 Q482.5,650.4 482.5,653 L482.5,655.8"/>
<path d="M469,645 L469,655.8"/>
<ellipse cx="472" cy="633" rx="8.2" ry="6.6" fill="#c4b2e6" stroke="none"/>
<path d="M459,634.5 Q461.5,633.5 463,635.5 M461,627.5 Q463,625 466,626 M468,622.8 Q470,625 473.5,623.6 M479,623.5 Q479.5,626.6 482.8,627 M484.8,633 Q482,633.6 481.6,636.4 M474.5,641.5 Q475.5,639 478.6,639.4 M463.5,639.5 Q465.6,637.6 468,638.8" stroke-width="1"/>
<rect x="467.4" y="629.2" width="9.6" height="7.2" rx="1.8" fill="#8f7ccb" stroke="#4e3f8c" stroke-width="1"/>
<circle cx="463.5" cy="645.2" r="2.1" fill="#b6a4de" stroke="none"/>
</g>
<path d="M49.8,681.6 L65.2,697 M65.2,681.6 L49.8,697" stroke="#cb372d" stroke-width="3.9" stroke-linecap="butt" fill="none"/>
<g transform="translate(219.3,689)"><rect x="-8.7" y="-8.7" width="17.4" height="17.4" rx="3.2" fill="#62b560" stroke="#9fd39c" stroke-width="0.8"/><path d="M-4.8,0.2 L-1.6,4 L5,-4.6" fill="none" stroke="#fff" stroke-width="2.4" stroke-linecap="round" stroke-linejoin="round"/></g>
<path d="M55.0,737.3 C60.6,737.3 62.7,707.3 68.3,707.3 C74.2,707.3 76.5,738.3 82.3,738.3 C88.4,738.3 90.6,706.7 96.7,706.7 C102.7,706.7 105.0,738.3 111.0,738.3 C116.9,738.3 119.1,707.3 125.0,707.3 C130.6,707.3 132.7,736.7 138.3,736.7 Z" fill="url(#g3h)" mask="url(#m3)" opacity="0.95"/>
<path d="M38.3,708.3 C45.3,708.3 48.0,737.3 55.0,737.3 C60.6,737.3 62.7,707.3 68.3,707.3 C74.2,707.3 76.5,738.3 82.3,738.3 C88.4,738.3 90.6,706.7 96.7,706.7 C102.7,706.7 105.0,738.3 111.0,738.3 C116.9,738.3 119.1,707.3 125.0,707.3 C130.6,707.3 132.7,736.7 138.3,736.7 C141.4,736.7 142.6,725.0 145.7,725.0" fill="none" stroke="url(#g3l)" stroke-width="2.8" stroke-linecap="round"/>
<path d="M189.3,707.0 C195.5,707.0 197.8,736.3 204.0,736.3 C210.2,736.3 212.5,707.0 218.7,707.0 C224.8,707.0 227.2,737.4 233.3,737.4 C239.5,737.4 241.8,707.0 248.0,707.0 C254.2,707.0 256.5,737.4 262.7,737.4 C268.5,737.4 270.8,707.0 276.6,707.0 C282.3,707.0 284.5,727.2 290.2,727.2 C295.6,727.2 297.6,712.5 303.0,712.5 C309.2,712.5 311.5,721.7 317.7,721.7 C325.1,721.7 327.9,705.2 335.3,705.2 L335.3,741 L189.3,741 Z" fill="url(#g4h)" mask="url(#m4)" opacity="0.6"/>
<path d="M189.3,707.0 C195.5,707.0 197.8,736.3 204.0,736.3 C210.2,736.3 212.5,707.0 218.7,707.0 C224.8,707.0 227.2,737.4 233.3,737.4 C239.5,737.4 241.8,707.0 248.0,707.0 C254.2,707.0 256.5,737.4 262.7,737.4 C268.5,737.4 270.8,707.0 276.6,707.0 C282.3,707.0 284.5,727.2 290.2,727.2 C295.6,727.2 297.6,712.5 303.0,712.5 C309.2,712.5 311.5,721.7 317.7,721.7 C325.1,721.7 327.9,705.2 335.3,705.2" fill="none" stroke="url(#g4l)" stroke-width="2.8" stroke-linecap="round"/>
<g transform="translate(402.3,716.2)"><path d="M-7.5,0 A7.5,7.5 0 1 1 7.5,0 Q7.3,4 4,7.4 L3.6,9.6 H-3.6 L-4,7.4 Q-7.3,4 -7.5,0 Z" fill="url(#gbl)" stroke="#ece3b4" stroke-width="0.8"/><path d="M-2.2,2.6 L-1.1,8.6 M2.2,2.6 L1.1,8.6 M-2.2,2.6 Q0,1 2.2,2.6" fill="none" stroke="#ecd98a" stroke-width="0.7"/><rect x="-3.5" y="9.8" width="7" height="3.6" rx="1" fill="#d4d6dc" stroke="#b4b6c0" stroke-width="0.6"/><path d="M-2,14 H2" stroke="#a0a2ac" stroke-width="1.3" stroke-linecap="round"/></g>
</svg>
<div class="t" style="left:283.7px;transform:translateX(-50%);top:14.5px;font-size:30.8px;line-height:43px;font-weight:700;color:#141414;-webkit-text-stroke:0.6px #141414;">睡眠的各个阶段</div>
<div class="t" style="left:54.0px;top:73.0px;font-size:19.3px;line-height:27px;font-weight:700;color:#141414;">一个完整睡眠周期 <span style="font-size:106%">= 90</span> 分钟</div>
<div class="t" style="right:540.0px;top:133.0px;font-size:13.1px;line-height:18px;font-weight:700;color:#1a1a1a;">觉醒</div>
<div class="t" style="right:540.0px;top:198.0px;font-size:13.1px;line-height:18px;font-weight:700;color:#1a1a1a;">睡睡眠</div>
<div class="t" style="right:540.0px;top:264.0px;font-size:13.1px;line-height:18px;font-weight:700;color:#1a1a1a;">深睡眠</div>
<div class="t" style="left:70.0px;transform:translateX(-50%);top:282.0px;font-size:11.5px;line-height:16px;font-weight:700;color:#1a1a1a;">入睡</div>
<div class="t" style="left:132.0px;transform:translateX(-50%);top:282.0px;font-size:11.5px;line-height:16px;font-weight:700;color:#1a1a1a;">10分钟</div>
<div class="t" style="left:194.0px;transform:translateX(-50%);top:282.0px;font-size:11.5px;line-height:16px;font-weight:700;color:#1a1a1a;">20分钟</div>
<div class="t" style="left:256.0px;transform:translateX(-50%);top:282.0px;font-size:11.5px;line-height:16px;font-weight:700;color:#1a1a1a;">30分钟</div>
<div class="t" style="left:318.0px;transform:translateX(-50%);top:282.0px;font-size:11.5px;line-height:16px;font-weight:700;color:#1a1a1a;">40分钟</div>
<div class="t" style="left:380.0px;transform:translateX(-50%);top:282.0px;font-size:11.5px;line-height:16px;font-weight:700;color:#1a1a1a;">60分钟</div>
<div class="t" style="left:442.0px;transform:translateX(-50%);top:282.0px;font-size:11.5px;line-height:16px;font-weight:700;color:#1a1a1a;">70分钟</div>
<div class="t" style="left:504.0px;transform:translateX(-50%);top:282.0px;font-size:11.5px;line-height:16px;font-weight:700;color:#1a1a1a;">80分钟</div>
<div class="t" style="left:564.7px;transform:translateX(-50%);top:282.0px;font-size:11.5px;line-height:16px;font-weight:700;color:#1a1a1a;">90分钟</div>
<div class="t" style="left:272.4px;transform:translateX(-50%);top:148.8px;font-size:13.4px;line-height:19px;font-weight:700;color:#1a1a1a;">浅睡眠</div>
<div class="t" style="left:328.7px;transform:translateX(-50%);top:252.0px;font-size:13.3px;line-height:19px;font-weight:700;color:#1a1a1a;">深睡眠</div>
<div class="t" style="left:487.7px;transform:translateX(-50%);top:149.2px;font-size:13.2px;line-height:18px;font-weight:700;color:#1a1a1a;">REM 快速眼动</div>
<div class="t" style="left:79.0px;top:312.0px;font-size:12.6px;line-height:18px;font-weight:700;color:#1c1e26;-webkit-text-stroke:0.3px #1c1e26;">Stage 1:</div>
<div class="t" style="left:79.0px;top:327.7px;font-size:14.8px;line-height:21px;font-weight:700;color:#151515;">入睡期</div>
<div class="t" style="left:79.0px;top:346.2px;font-size:12px;line-height:17px;font-weight:400;color:#1c1e26;-webkit-text-stroke:0.5px #1c1e26;">5-10 分钟</div>
<div class="t" style="left:219.0px;top:312.0px;font-size:12.6px;line-height:18px;font-weight:700;color:#1c1e26;-webkit-text-stroke:0.3px #1c1e26;">Stage 2:</div>
<div class="t" style="left:219.0px;top:327.7px;font-size:14.8px;line-height:21px;font-weight:700;color:#151515;">浅睡眠</div>
<div class="t" style="left:219.0px;top:346.2px;font-size:12px;line-height:17px;font-weight:400;color:#1c1e26;-webkit-text-stroke:0.5px #1c1e26;">20 分钟</div>
<div class="t" style="left:360.0px;top:312.0px;font-size:12.6px;line-height:18px;font-weight:700;color:#1c1e26;-webkit-text-stroke:0.3px #1c1e26;">Stage 3:</div>
<div class="t" style="left:360.0px;top:327.7px;font-size:14.8px;line-height:21px;font-weight:700;color:#151515;">深睡眠</div>
<div class="t" style="left:360.0px;top:346.2px;font-size:12px;line-height:17px;font-weight:400;color:#1c1e26;-webkit-text-stroke:0.5px #1c1e26;">30-40 分钟</div>
<div class="t" style="left:501.5px;top:312.0px;font-size:12.6px;line-height:18px;font-weight:700;color:#1c1e26;-webkit-text-stroke:0.3px #1c1e26;">Stage 4:</div>
<div class="t" style="left:501.5px;top:329.3px;font-size:11.3px;line-height:16px;font-weight:700;color:#151515;">REM 快速眼动</div>
<div class="t" style="left:501.5px;top:346.2px;font-size:12px;line-height:17px;font-weight:400;color:#1c1e26;-webkit-text-stroke:0.5px #1c1e26;">20-25 分钟</div>
<div class="t" style="left:56.8px;top:407.5px;font-size:14.4px;line-height:20px;font-weight:700;color:#1a1a1a;">开始放松</div>
<div class="t" style="left:197.3px;top:406.9px;font-size:14.5px;line-height:20px;font-weight:700;color:#1a1a1a;">真正入睡</div>
<div class="t" style="left:239.3px;transform:translateX(-50%);top:428.2px;font-size:14px;line-height:20px;font-weight:700;color:#ffffff;">占 50% 睡眠</div>
<div class="t" style="left:337.8px;top:407.7px;font-size:14.5px;line-height:20px;font-weight:700;color:#1a1a1a;">身体修复</div>
<div class="t" style="left:337.8px;top:426.7px;font-size:14.5px;line-height:20px;font-weight:700;color:#1a1a1a;">生长激素分泌</div>
<div class="t" style="left:478.8px;top:408.0px;font-size:14.5px;line-height:20px;font-weight:700;color:#1a1a1a;">做梦</div>
<div class="t" style="left:478.8px;top:428.0px;font-size:14.5px;line-height:20px;font-weight:700;color:#1a1a1a;">记忆整理</div>
<div class="t" style="left:54.0px;top:475.3px;font-size:20px;line-height:28px;font-weight:700;color:#141414;word-spacing:1px;">一晚重复 <span style="font-size:114%">4-6</span> 次</div>
<div class="t" style="left:37.0px;transform:translateX(-50%);top:611.0px;font-size:12px;line-height:17px;font-weight:700;color:#1a1a1a;">22:00</div>
<div class="t" style="left:137.5px;transform:translateX(-50%);top:611.0px;font-size:12px;line-height:17px;font-weight:700;color:#1a1a1a;">01:00</div>
<div class="t" style="left:237.0px;transform:translateX(-50%);top:611.0px;font-size:12px;line-height:17px;font-weight:700;color:#1a1a1a;">03:00</div>
<div class="t" style="left:337.5px;transform:translateX(-50%);top:611.0px;font-size:12px;line-height:17px;font-weight:700;color:#1a1a1a;">05:00</div>
<div class="t" style="left:379.0px;transform:translateX(-50%);top:611.0px;font-size:12px;line-height:17px;font-weight:700;color:#1a1a1a;">07:00</div>
<div class="t" style="left:502.0px;top:480.0px;font-size:15.7px;line-height:22px;font-weight:700;color:#1a1a1a;">浅睡眠</div>
<div class="t" style="left:502.0px;top:500.5px;font-size:14.2px;line-height:20px;font-weight:700;color:#1a1a1a;">过渡作用</div>
<div class="t" style="left:502.0px;top:536.0px;font-size:15.6px;line-height:22px;font-weight:700;color:#1a1a1a;">深睡眠</div>
<div class="t" style="left:502.0px;top:556.0px;font-size:14.2px;line-height:20px;font-weight:700;color:#1a1a1a;">身体修复</div>
<div class="t" style="left:502.0px;top:574.5px;font-size:14.2px;line-height:20px;font-weight:700;color:#1a1a1a;">免疫增强</div>
<div class="t" style="left:502.0px;top:609.5px;font-size:15.6px;line-height:22px;font-weight:700;color:#1a1a1a;">REM 睡眠</div>
<div class="t" style="left:502.0px;top:629.0px;font-size:14.2px;line-height:20px;font-weight:700;color:#1a1a1a;">记忆巩固</div>
<div class="t" style="left:502.0px;top:648.0px;font-size:14.2px;line-height:20px;font-weight:700;color:#1a1a1a;">情绪调节</div>
<div class="t" style="left:24.3px;top:636.9px;font-size:20.8px;line-height:29px;font-weight:700;color:#141414;word-spacing:1.3px;">为什么要睡够 <span style="font-size:110%">7-8</span> 小时<span style="display:inline-block;font-size:120%;line-height:1;transform:scaleX(0.74);transform-origin:left center;margin-left:0.5px">?</span></div>
<div class="t" style="left:71.2px;top:678.7px;font-size:15.5px;line-height:22px;font-weight:700;color:#1a1a1a;">睡 <span style="font-size:110%">5</span> 小时</div>
<div class="t" style="left:233.5px;top:678.7px;font-size:15.5px;line-height:22px;font-weight:700;color:#1a1a1a;">睡 <span style="font-size:104%">7-8</span> 小时</div>
<div class="t" style="left:92.0px;transform:translateX(-50%);top:744.2px;font-size:14.6px;line-height:20px;font-weight:700;color:#1a1a1a;">深睡眠不足</div>
<div class="t" style="left:92.0px;transform:translateX(-50%);top:761.6px;font-size:14.6px;line-height:20px;font-weight:700;color:#1a1a1a;">疲劳 记忆差</div>
<div class="t" style="left:262.0px;transform:translateX(-50%);top:744.1px;font-size:14.6px;line-height:20px;font-weight:700;color:#1a1a1a;">所有阶段充足</div>
<div class="t" style="left:262.8px;transform:translateX(-50%);top:761.8px;font-size:14.6px;line-height:20px;font-weight:700;color:#1a1a1a;">精力充沛 健康</div>
<div class="t" style="left:419.5px;top:705.6px;font-size:20.9px;line-height:29px;font-weight:700;color:#141414;">每个阶段都重要</div>
<div class="t" style="left:394.0px;top:734.0px;font-size:18px;line-height:25px;font-weight:700;color:#141414;word-spacing:2.2px;">完整周期 <span style="font-size:110%">&gt;</span> 碎片睡眠</div>
</div></body></html>
